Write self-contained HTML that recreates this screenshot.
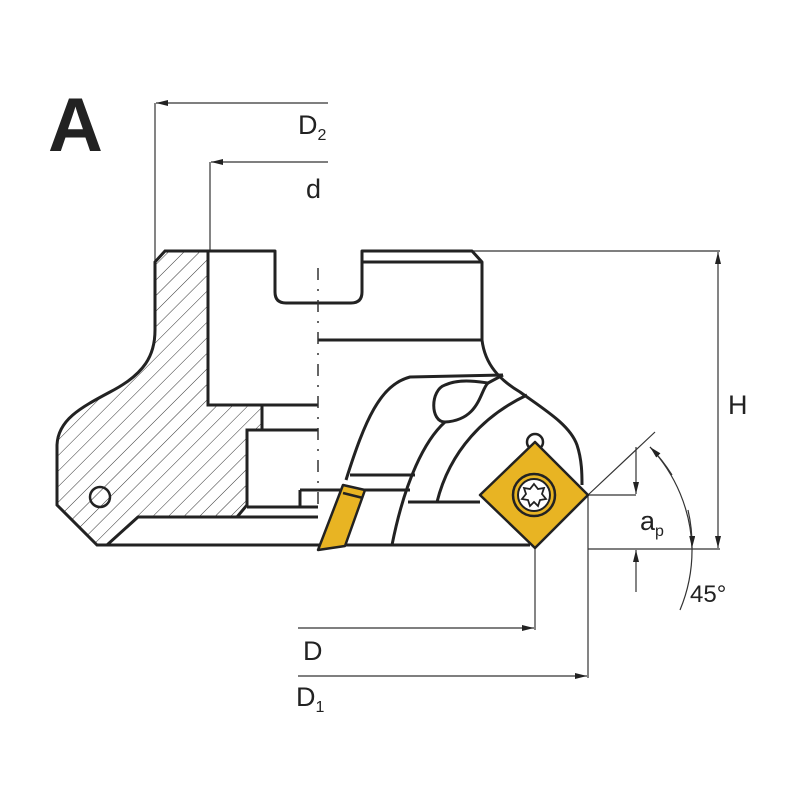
<!DOCTYPE html>
<html><head><meta charset="utf-8"><style>html,body{margin:0;padding:0;background:#fff}svg{display:block}text{font-family:"Liberation Sans",sans-serif;fill:#222}</style></head><body>
<svg width="800" height="800" viewBox="0 0 800 800" xmlns="http://www.w3.org/2000/svg">
<defs>
<pattern id="h" width="11" height="11" patternUnits="userSpaceOnUse" patternTransform="rotate(45)"><line x1="0" y1="0" x2="0" y2="11" stroke="#333" stroke-width="1"/></pattern>
<marker id="a" viewBox="0 0 12 6" refX="12" refY="3" markerWidth="12" markerHeight="6" orient="auto" markerUnits="userSpaceOnUse"><path d="M0,0 L12,3 L0,6 Z" fill="#222"/></marker>
</defs>
<text x="48" y="151" font-size="76" font-weight="bold" style="fill:#222">A</text>
<g stroke="#333" stroke-width="1.2" fill="none">
<line x1="155" y1="103" x2="155" y2="262"/><line x1="328" y1="103" x2="156" y2="103" marker-end="url(#a)"/>
<line x1="210" y1="162" x2="210" y2="251"/><line x1="328" y1="162" x2="211" y2="162" marker-end="url(#a)"/>
<line x1="472" y1="251" x2="720" y2="251"/><line x1="588" y1="549" x2="720" y2="549"/>
<line x1="718" y1="400" x2="718" y2="252" marker-end="url(#a)"/><line x1="718" y1="400" x2="718" y2="548" marker-end="url(#a)"/>
<line x1="588" y1="495" x2="636" y2="495"/>
<line x1="636" y1="447" x2="636" y2="494" marker-end="url(#a)"/><line x1="636" y1="592" x2="636" y2="550" marker-end="url(#a)"/>
<line x1="588" y1="495" x2="655" y2="432"/>
<path d="M650,447 A155,155 0 0 1 692,548 A155,155 0 0 1 680,610"/>
<path d="M672,475 A155,155 0 0 0 650,447" marker-end="url(#a)"/>
<path d="M688,510 A155,155 0 0 1 692,548" marker-end="url(#a)"/>
<line x1="535" y1="548" x2="535" y2="630"/><line x1="298" y1="628" x2="534" y2="628" marker-end="url(#a)"/>
<line x1="588" y1="495" x2="588" y2="678"/><line x1="298" y1="676" x2="587" y2="676" marker-end="url(#a)"/>
</g>
<text x="298" y="134" font-size="27">D<tspan font-size="16" dy="6">2</tspan></text>
<text x="306" y="198" font-size="27">d</text>
<text x="728" y="414" font-size="27">H</text>
<text x="640" y="530" font-size="27">a<tspan font-size="16" dy="6">p</tspan></text>
<text x="690" y="602" font-size="24">45°</text>
<text x="303" y="660" font-size="27">D</text>
<text x="296" y="706" font-size="27">D<tspan font-size="16" dy="6">1</tspan></text>
<path d="M155,262 L165,251 L208,251 L208,405 L262,405 L262,430 L247,430 L247,505 L237,517 L138,517 L107,545 L97,545 L57,505 L57,445 C58,420 80,408 110,392 C145,374 155,355 155,330 Z" fill="url(#h)" stroke="#222" stroke-width="3"/>
<g stroke="#222" stroke-width="3" fill="none" stroke-linejoin="round">
<path d="M208,251 L275,251 L275,292 Q275,303 286,303 L351,303 Q362,303 362,292 L362,251 L472,251 L482,262 L482,340"/>
<line x1="362" y1="262" x2="482" y2="262"/>
<line x1="318" y1="340" x2="482" y2="340"/>
<path d="M482,340 C485,365 500,380 520,392 C545,410 570,425 577,445 C582,460 582,475 582,485"/>
<line x1="208" y1="405" x2="318" y2="405"/>
<line x1="247" y1="430" x2="318" y2="430"/>
<line x1="247" y1="507" x2="318" y2="507"/>
<line x1="138" y1="517" x2="318" y2="517"/>
<line x1="107" y1="545" x2="530" y2="545"/>
<line x1="300" y1="490" x2="410" y2="490"/>
<line x1="300" y1="490" x2="300" y2="507"/>
<line x1="350" y1="475" x2="415" y2="475"/>
<line x1="408" y1="502" x2="480" y2="502"/>
<path d="M346,480 C365,420 380,385 410,377 L503,375"/>
<path d="M392,545 C405,480 425,440 445,422"/>
<path d="M437,502 C450,450 485,415 527,395"/>
<path d="M445,422 C430,422 430,390 445,385 C460,378 480,382 488,383 C480,390 480,420 445,422 Z"/>
<path d="M488,383 L503,375"/>
<circle cx="100" cy="497" r="10" stroke-width="2.5"/>
<circle cx="535" cy="442" r="8" stroke-width="2.5"/>
</g>
<g stroke="#333" stroke-width="1.5" stroke-dasharray="12,9,2,9"><line x1="318" y1="268" x2="318" y2="505"/></g>
<path d="M318,550 L343,485 L365,490 L345,546 Z" fill="#e8b423" stroke="#222" stroke-width="2.5" stroke-linejoin="round"/>
<line x1="343" y1="493" x2="363" y2="498" stroke="#222" stroke-width="2.5"/>
<path d="M535,442 L588,495 L535,548 L480,495 Z" fill="#e8b423" stroke="#222" stroke-width="2.5" stroke-linejoin="round"/>
<circle cx="534" cy="495" r="21" fill="#e8b423" stroke="#222" stroke-width="2.5"/>
<circle cx="534" cy="495" r="16" fill="#fff" stroke="#222" stroke-width="2"/>
<path d="M534,484 L538,489 L544,488 L542,494 L546,499 L540,500 L538,506 L534,502 L530,506 L528,500 L522,499 L526,494 L524,488 L530,489 Z" fill="#fff" stroke="#222" stroke-width="1.8"/>
</svg>
</body></html>
